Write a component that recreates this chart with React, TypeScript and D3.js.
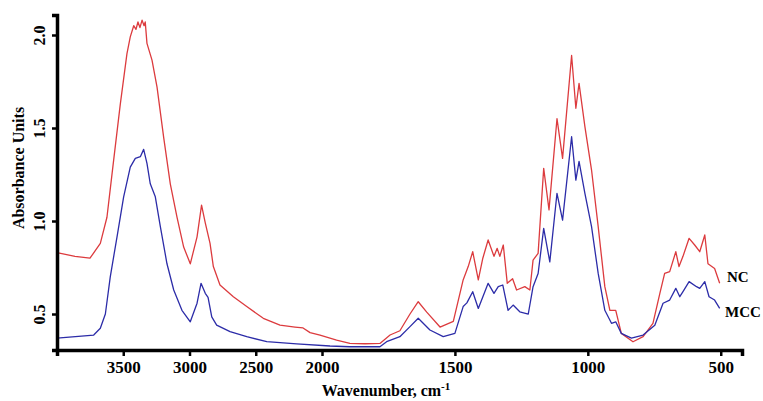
import { useEffect, useRef } from "react"
import * as d3 from "d3"

// wavenumber (cm-1) and absorbance
const ncWave = [4000, 3864, 3751, 3673, 3623, 3572, 3522, 3472, 3447, 3421, 3404, 3389, 3374, 3358, 3343, 3334, 3321, 3283, 3245, 3195, 3145, 3094, 3044, 2994, 2943, 2909, 2881, 2845, 2820, 2770, 2669, 2568, 2443, 2317, 2204, 2143, 2090, 2015, 1945, 1895, 1838, 1782, 1744, 1707, 1669, 1638, 1606, 1556, 1506, 1469, 1450, 1433, 1412, 1395, 1375, 1353, 1341, 1331, 1318, 1303, 1283, 1268, 1237, 1218, 1206, 1187, 1166, 1146, 1116, 1095, 1061, 1045, 1033, 1011, 986, 961, 936, 917, 895, 874, 830, 792, 755, 729, 711, 692, 669, 657, 642, 619, 598, 579, 560, 548, 523, 504]
const ncAbs = [0.83, 0.81, 0.8, 0.88, 1.02, 1.33, 1.63, 1.9, 1.99, 2.05, 2.03, 2.07, 2.04, 2.08, 2.05, 2.07, 1.955, 1.865, 1.72, 1.45, 1.2, 1.02, 0.86, 0.77, 0.915, 1.085, 0.99, 0.88, 0.755, 0.656, 0.593, 0.54, 0.477, 0.44, 0.43, 0.425, 0.4, 0.387, 0.36, 0.342, 0.34, 0.342, 0.387, 0.41, 0.5, 0.566, 0.51, 0.43, 0.46, 0.683, 0.755, 0.835, 0.683, 0.8, 0.898, 0.81, 0.853, 0.81, 0.871, 0.665, 0.69, 0.629, 0.647, 0.629, 0.79, 0.826, 1.283, 1.06, 1.55, 1.337, 1.89, 1.606, 1.74, 1.507, 1.274, 0.97, 0.647, 0.52, 0.52, 0.396, 0.351, 0.378, 0.45, 0.611, 0.718, 0.728, 0.835, 0.755, 0.81, 0.907, 0.871, 0.835, 0.925, 0.77, 0.745, 0.665]

const mccWave = [4000, 3723, 3673, 3635, 3598, 3547, 3497, 3447, 3409, 3371, 3346, 3321, 3296, 3258, 3220, 3170, 3119, 3057, 2994, 2943, 2913, 2881, 2860, 2832, 2795, 2694, 2568, 2417, 2191, 1970, 1895, 1782, 1757, 1707, 1669, 1638, 1594, 1544, 1500, 1469, 1455, 1433, 1412, 1375, 1353, 1337, 1320, 1300, 1281, 1256, 1224, 1206, 1187, 1166, 1143, 1116, 1095, 1061, 1045, 1033, 1011, 986, 961, 936, 911, 895, 874, 836, 792, 748, 717, 692, 669, 654, 642, 619, 591, 579, 560, 544, 523, 504]
const mccAbs = [0.37, 0.387, 0.423, 0.5, 0.7, 0.915, 1.13, 1.29, 1.337, 1.346, 1.385, 1.31, 1.2, 1.13, 0.97, 0.77, 0.629, 0.52, 0.458, 0.558, 0.665, 0.611, 0.59, 0.485, 0.44, 0.405, 0.378, 0.351, 0.339, 0.328, 0.324, 0.324, 0.351, 0.378, 0.432, 0.477, 0.414, 0.378, 0.396, 0.54, 0.56, 0.62, 0.53, 0.665, 0.611, 0.647, 0.656, 0.52, 0.548, 0.512, 0.5, 0.647, 0.718, 0.96, 0.78, 1.149, 1.005, 1.453, 1.22, 1.32, 1.149, 0.97, 0.718, 0.52, 0.45, 0.458, 0.396, 0.37, 0.387, 0.44, 0.558, 0.575, 0.638, 0.593, 0.62, 0.674, 0.647, 0.638, 0.674, 0.593, 0.575, 0.53]

const xTicks = [3500, 3000, 2500, 2000, 1500, 1000, 500]
const yTicks = [0.5, 1.0, 1.5, 2.0]

const series = [
  { name: "NC", wave: ncWave, abs: ncAbs, color: "#dc3b3e" },
  { name: "MCC", wave: mccWave, abs: mccAbs, color: "#2c2ca8" },
]

export default function App() {
  const svgRef = useRef<SVGSVGElement>(null)

  useEffect(() => {
    if (!svgRef.current) return
    const svg = d3.select(svgRef.current)
    svg.selectAll("*").remove()

    const font = "'Liberation Serif', 'Times New Roman', serif"

    // FTIR style: scale changes at 2000 cm-1
    const x = d3.scaleLinear().domain([4000, 2000, 420]).range([57, 322, 742])
    const y = d3.scaleLinear().domain([0.3065, 2.1075]).range([350, 15])

    // lines
    series.forEach((s) => {
      const pts = s.wave.map((w, i) => [w, s.abs[i]] as [number, number])
      const line = d3
        .line<[number, number]>()
        .x((d) => x(d[0]))
        .y((d) => y(d[1]))
      svg
        .append("path")
        .datum(pts)
        .attr("d", line)
        .attr("fill", "none")
        .attr("stroke", s.color)
        .attr("stroke-width", 1.3)
        .attr("stroke-linejoin", "round")
    })

    // axes
    const xAxis = svg
      .append("g")
      .attr("transform", "translate(0,350)")
      .call(d3.axisBottom(x).tickValues(xTicks).tickFormat(d3.format("d")).tickSizeOuter(0).tickSize(6).tickPadding(5))
    xAxis.select(".domain").attr("stroke", "#000").attr("stroke-width", 3.5)
    xAxis.selectAll(".tick line").attr("stroke", "#000").attr("stroke-width", 2.5)
    xAxis
      .selectAll(".tick text")
      .attr("font-family", font)
      .attr("font-weight", "bold")
      .attr("font-size", 17)
      .attr("fill", "#000")

    const yAxis = svg
      .append("g")
      .attr("transform", "translate(57,0)")
      .call(d3.axisLeft(y).tickValues(yTicks).tickFormat(d3.format(".1f")).tickSizeOuter(0).tickSize(5))
    yAxis.select(".domain").attr("stroke", "#000").attr("stroke-width", 3.5)
    yAxis.selectAll(".tick line").attr("stroke", "#000").attr("stroke-width", 2.5)
    yAxis
      .selectAll<SVGTextElement, number>(".tick text")
      .attr("x", null)
      .attr("dy", null)
      .attr("transform", "translate(-12,0) rotate(-90)")
      .attr("text-anchor", "middle")
      .attr("font-family", font)
      .attr("font-weight", "bold")
      .attr("font-size", 16)
      .attr("fill", "#000")

    // axis titles
    const xt = svg
      .append("text")
      .attr("x", 386)
      .attr("y", 396)
      .attr("text-anchor", "middle")
      .attr("font-family", font)
      .attr("font-weight", "bold")
      .attr("font-size", 16)
    xt.append("tspan").text("Wavenumber, cm")
    xt.append("tspan").attr("dy", -6).attr("font-size", 11).text("-1")

    svg
      .append("text")
      .attr("transform", "translate(24,168) rotate(-90)")
      .attr("text-anchor", "middle")
      .attr("font-family", font)
      .attr("font-weight", "bold")
      .attr("font-size", 16)
      .text("Absorbance Units")

    // series labels
    svg
      .append("text")
      .attr("x", 727)
      .attr("y", 282)
      .attr("font-family", font)
      .attr("font-weight", "bold")
      .attr("font-size", 15)
      .text("NC")
    svg
      .append("text")
      .attr("x", 725)
      .attr("y", 317)
      .attr("font-family", font)
      .attr("font-weight", "bold")
      .attr("font-size", 15)
      .text("MCC")
  }, [])

  return (
    <svg
      ref={svgRef}
      width={763}
      height={401}
      style={{ position: "absolute", left: 0, top: 0, background: "#fff" }}
    />
  )
}
